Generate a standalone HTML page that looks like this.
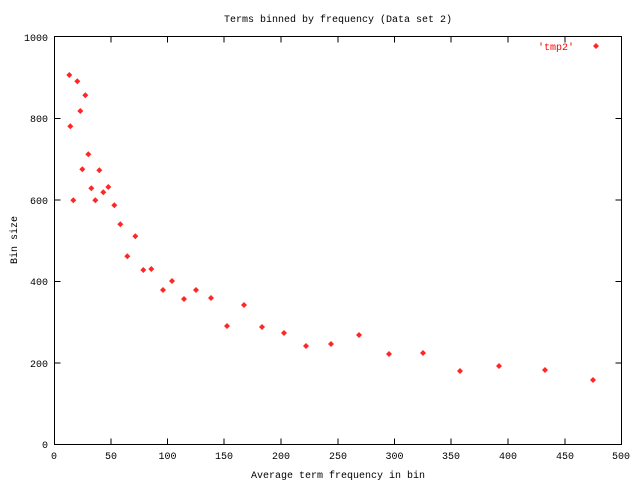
<!DOCTYPE html>
<html><head><style>body{margin:0;background:#fff}</style></head><body>
<svg width="640" height="480" xmlns="http://www.w3.org/2000/svg" font-family="Liberation Mono, DejaVu Sans Mono, monospace" font-size="10">
<rect width="640" height="480" fill="#fff"/>
<text x="338" y="22" text-anchor="middle">Terms binned by frequency (Data set 2)</text>
<text x="338" y="478" text-anchor="middle">Average term frequency in bin</text>
<text transform="translate(17,240) rotate(-90)" text-anchor="middle">Bin size</text>
<g stroke="#000" stroke-width="1" fill="none">
<rect x="54.5" y="36.5" width="567" height="408"/>
<path d="M54.5 363h6M54.5 281.5h6M54.5 200h6M54.5 118.5h6
M621.5 363h-6M621.5 281.5h-6M621.5 200h-6M621.5 118.5h-6
M111 444.5v-6M167.5 444.5v-6M224 444.5v-6M281 444.5v-6M338 444.5v-6M394.5 444.5v-6M451 444.5v-6M508 444.5v-6M565 444.5v-6
M111 36.5v6M167.5 36.5v6M224 36.5v6M281 36.5v6M338 36.5v6M394.5 36.5v6M451 36.5v6M508 36.5v6M565 36.5v6"/>
</g>
<g text-anchor="end">
<text x="48" y="448">0</text><text x="48" y="367">200</text><text x="48" y="285">400</text><text x="48" y="204">600</text><text x="48" y="122">800</text><text x="48" y="41">1000</text>
</g>
<g text-anchor="middle">
<text x="54" y="459">0</text><text x="111" y="459">50</text><text x="167.5" y="459">100</text><text x="224" y="459">150</text><text x="281" y="459">200</text><text x="338" y="459">250</text><text x="394.5" y="459">300</text><text x="451" y="459">350</text><text x="508" y="459">400</text><text x="565" y="459">450</text><text x="621" y="459">500</text>
</g>
<text x="574" y="50" text-anchor="end" fill="#f00">'tmp2'</text>
<defs><path id="d" d="M0 -3L3 0L0 3L-3 0Z" fill="#f00" opacity="0.85"/></defs>
<g>
<use href="#d" x="596" y="46"/>
<use href="#d" x="69.3" y="75"/>
<use href="#d" x="77.3" y="81.3"/>
<use href="#d" x="85.3" y="95.3"/>
<use href="#d" x="80.3" y="111"/>
<use href="#d" x="70.3" y="126.3"/>
<use href="#d" x="88.3" y="154.3"/>
<use href="#d" x="82.3" y="169.3"/>
<use href="#d" x="99.3" y="170.3"/>
<use href="#d" x="91.3" y="188.3"/>
<use href="#d" x="108.3" y="187"/>
<use href="#d" x="103.3" y="192.3"/>
<use href="#d" x="73.3" y="200.3"/>
<use href="#d" x="95.3" y="200.3"/>
<use href="#d" x="114.3" y="205.3"/>
<use href="#d" x="120.3" y="224.3"/>
<use href="#d" x="135.3" y="236.3"/>
<use href="#d" x="127.3" y="256.3"/>
<use href="#d" x="143.3" y="270"/>
<use href="#d" x="151.3" y="269"/>
<use href="#d" x="163" y="290"/>
<use href="#d" x="172" y="281"/>
<use href="#d" x="184" y="299"/>
<use href="#d" x="196" y="290"/>
<use href="#d" x="211" y="298"/>
<use href="#d" x="227" y="326"/>
<use href="#d" x="244" y="305"/>
<use href="#d" x="262" y="327"/>
<use href="#d" x="284" y="333"/>
<use href="#d" x="306" y="346"/>
<use href="#d" x="331" y="344"/>
<use href="#d" x="359" y="335"/>
<use href="#d" x="389" y="354"/>
<use href="#d" x="423" y="353"/>
<use href="#d" x="460" y="371"/>
<use href="#d" x="499" y="366"/>
<use href="#d" x="545" y="370"/>
<use href="#d" x="593" y="380"/>
</g>
</svg>
</body></html>
